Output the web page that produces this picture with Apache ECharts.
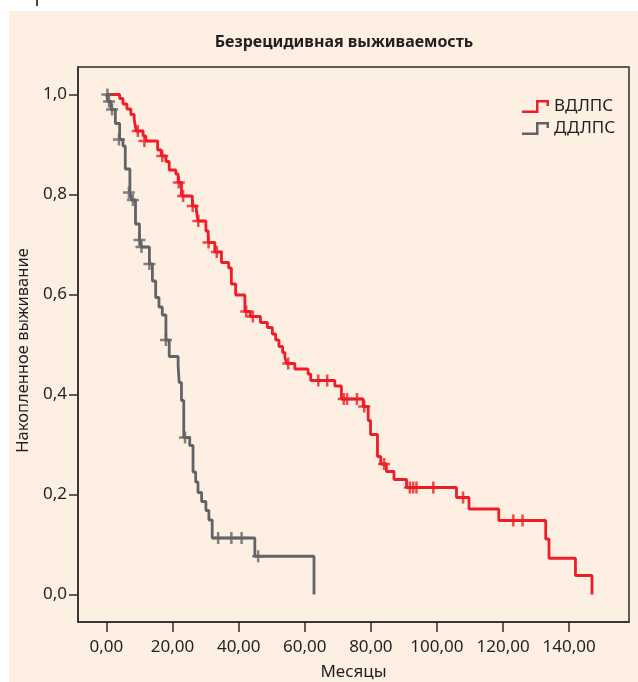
<!DOCTYPE html>
<html>
<head>
<meta charset="utf-8">
<script src="https://cdn.jsdelivr.net/npm/echarts@6/dist/echarts.min.js"></script>
<style>html,body{margin:0;padding:0;background:#fff}#c{width:638px;height:682px}</style>
</head>
<body>
<div id="c"></div>
<script>
// ---- data ----
const titleText = 'Безрецидивная выживаемость';
const seriesNames = ['ВДЛПС', 'ДДЛПС'];
const xTicks = [0, 20, 40, 60, 80, 100, 120, 140];
const yTicks = [0, 0.2, 0.4, 0.6, 0.8, 1.0];
const xName = 'Месяцы';
const yName = 'Накопленное выживание';

// ВДЛПС: step points [time, survival after event]
const redSteps = [
  [0, 1.0], [4.0, 0.992], [5.0, 0.981], [6.2, 0.971], [7.4, 0.960], [8.4, 0.950], [9.0, 0.927],
  [11.1, 0.917], [11.9, 0.907], [15.5, 0.889], [16.6, 0.877], [18.0, 0.866], [19.0, 0.849],
  [21.0, 0.841], [21.7, 0.824], [22.7, 0.797], [26.0, 0.777], [27.2, 0.769], [27.7, 0.747],
  [30.1, 0.727], [30.8, 0.704], [32.8, 0.685], [34.8, 0.664], [37.0, 0.653], [37.8, 0.621],
  [39.1, 0.599], [41.9, 0.566], [43.5, 0.556], [46.6, 0.544], [48.7, 0.534], [50.2, 0.521],
  [51.2, 0.509], [52.2, 0.496], [53.3, 0.484], [54.0, 0.474], [54.5, 0.462], [57.0, 0.451],
  [61.0, 0.441], [61.8, 0.428], [69.1, 0.417], [71.1, 0.391], [77.7, 0.376], [79.2, 0.348],
  [79.9, 0.320], [82.0, 0.276], [83.0, 0.261], [84.7, 0.246], [87.0, 0.230], [90.8, 0.214],
  [105.9, 0.194], [109.7, 0.171], [118.7, 0.148], [132.9, 0.111], [133.9, 0.0725],
  [141.9, 0.038], [146.9, 0.0]
];
const redCensored = [
  [9.5, 0.927], [11.5, 0.907], [16.9, 0.877], [21.9, 0.824], [23.2, 0.797], [26.1, 0.777],
  [27.8, 0.747], [30.9, 0.704], [33.4, 0.685], [42.3, 0.566], [44.3, 0.556], [55.0, 0.462],
  [64.1, 0.428], [66.8, 0.428], [71.8, 0.391], [72.8, 0.391], [75.8, 0.391], [78.0, 0.376],
  [84.0, 0.261], [91.8, 0.214], [92.8, 0.214], [93.8, 0.214], [98.9, 0.214], [107.9, 0.194],
  [123.1, 0.148], [125.9, 0.148]
];

// ДДЛПС
const graySteps = [
  [0, 1.0], [0.5, 0.986], [1.4, 0.970], [2.7, 0.942], [4.0, 0.910], [5.0, 0.897], [5.7, 0.851],
  [7.1, 0.804], [7.6, 0.789], [8.8, 0.741], [10.0, 0.709], [10.6, 0.695], [13.0, 0.661],
  [13.9, 0.627], [14.9, 0.594], [15.9, 0.575], [16.9, 0.559], [18.0, 0.509], [19.0, 0.476],
  [21.7, 0.458], [22.0, 0.424], [22.7, 0.388], [23.4, 0.314], [25.2, 0.298], [26.2, 0.245],
  [27.0, 0.225], [27.7, 0.204], [28.8, 0.186], [30.1, 0.168], [31.0, 0.149], [32.0, 0.113],
  [44.9, 0.0765], [62.8, 0.0]
];
const grayCensored = [
  [0.3, 1.0], [0.8, 0.986], [1.7, 0.970], [3.8, 0.910], [6.8, 0.804], [8.0, 0.789],
  [10.0, 0.709], [10.6, 0.695], [13.0, 0.661], [18.0, 0.509], [23.8, 0.314],
  [33.8, 0.113], [37.8, 0.113], [40.9, 0.113], [45.9, 0.0765]
];

// ---- styles ----
const RED = '#EE1D27';
const GRAY = '#626367';
const AXIS = '#2e2b2b';
const TXT = '#231F20';
const FONT = '"Noto Sans", "Open Sans", sans-serif';
const plusPath = 'path://M4.75,0H7.25V4.75H12V7.25H7.25V12H4.75V7.25H0V4.75H4.75Z';
const stepIcon = 'path://M0,10.5H14V0H27V6H24.5V2.5H16.5V13H0Z';
const fmtX = v => v.toFixed(2).replace('.', ',');
const fmtY = v => v.toFixed(1).replace('.', ',');

const chart = echarts.init(document.getElementById('c'), null, {renderer: 'canvas'});
chart.setOption({
  backgroundColor: '#ffffff',
  animation: false,
  textStyle: {fontFamily: FONT},
  graphic: [
    {type: 'rect', z: -10, silent: true, shape: {x: 9, y: 11, width: 629, height: 671}, style: {fill: '#FDF0E3'}},
    {type: 'rect', z: -10, silent: true, shape: {x: 36, y: 0, width: 2, height: 6}, style: {fill: '#444'}}
  ],
  title: {
    text: titleText,
    left: 344, top: 34, textAlign: 'center', padding: 0,
    textStyle: {fontFamily: FONT, fontWeight: 'bold', fontSize: 16, color: TXT}
  },
  legend: {
    orient: 'vertical',
    left: 522, top: 98, padding: 0,
    itemWidth: 27, itemHeight: 13, itemGap: 5,
    textStyle: {fontFamily: FONT, fontSize: 17, color: TXT, lineHeight: 17},
    data: [
      {name: seriesNames[0], icon: stepIcon, itemStyle: {color: RED}},
      {name: seriesNames[1], icon: stepIcon, itemStyle: {color: GRAY}}
    ]
  },
  grid: {
    left: 78, top: 67, right: 9, bottom: 60, outerBoundsMode: 'none', containLabel: false,
    show: true, borderColor: AXIS, borderWidth: 1.5, backgroundColor: 'transparent'
  },
  xAxis: {
    type: 'value', min: -8.6, max: 158.1,
    name: xName, nameLocation: 'middle', nameGap: 42,
    nameTextStyle: {fontFamily: FONT, fontSize: 17, color: TXT},
    axisLine: {show: true, onZero: false, lineStyle: {color: AXIS, width: 1.5}},
    axisTick: {show: true, length: 10, customValues: xTicks, lineStyle: {color: AXIS, width: 1.5}},
    axisLabel: {customValues: xTicks, formatter: fmtX, margin: 17, fontFamily: FONT, fontSize: 17, color: TXT},
    splitLine: {show: false}
  },
  yAxis: {
    type: 'value', min: -0.055, max: 1.055,
    name: yName, nameLocation: 'middle', nameGap: 39,
    nameTextStyle: {fontFamily: FONT, fontSize: 16.5, color: TXT, padding: [0, 12, 0, 0]},
    axisLine: {show: true, onZero: false, lineStyle: {color: AXIS, width: 1.5}},
    axisTick: {show: true, length: 9, customValues: yTicks, lineStyle: {color: AXIS, width: 1.5}},
    axisLabel: {customValues: yTicks, formatter: fmtY, margin: 11, fontFamily: FONT, fontSize: 17, color: TXT},
    splitLine: {show: false}
  },
  series: [
    {
      name: seriesNames[0], type: 'line', step: 'end', data: redSteps,
      showSymbol: false, symbol: 'none', z: 2,
      itemStyle: {color: RED}, lineStyle: {color: RED, width: 2.8}
    },
    {
      name: seriesNames[0], type: 'scatter', data: redCensored,
      symbol: plusPath, symbolSize: 12, z: 3,
      itemStyle: {color: RED}
    },
    {
      name: seriesNames[1], type: 'line', step: 'end', data: graySteps,
      showSymbol: false, symbol: 'none', z: 4,
      itemStyle: {color: GRAY}, lineStyle: {color: GRAY, width: 2.8}
    },
    {
      name: seriesNames[1], type: 'scatter', data: grayCensored,
      symbol: plusPath, symbolSize: 12, z: 5,
      itemStyle: {color: GRAY}
    }
  ]
});
</script>
</body>
</html>
